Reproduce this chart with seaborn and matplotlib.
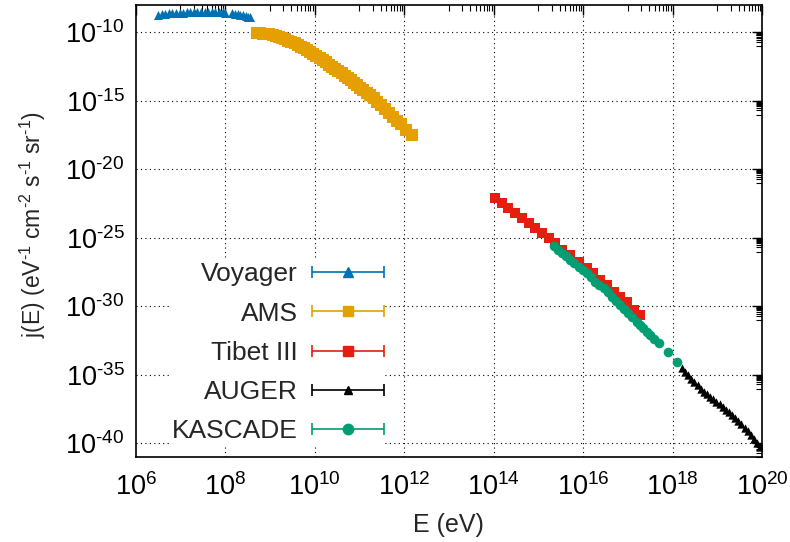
import numpy as np
import matplotlib
matplotlib.use("Agg")
import matplotlib.pyplot as plt
import seaborn as sns
from matplotlib.container import ErrorbarContainer
from matplotlib.legend_handler import HandlerErrorbar
from matplotlib.ticker import FixedLocator, FuncFormatter, NullFormatter

# log10(E / eV) and log10(j / eV^-1 cm^-2 s^-1 sr^-1)
voyager_loge = [6.50, 6.58, 6.66, 6.74, 6.82, 6.90, 6.98, 7.06, 7.14, 7.22, 7.30, 7.38, 7.46, 7.54,
                7.62, 7.70, 7.78, 7.86, 7.94, 8.00, 8.16, 8.22, 8.28, 8.34, 8.40, 8.46, 8.52, 8.56]
voyager_logj = [-8.72, -8.68, -8.65, -8.62, -8.60, -8.58, -8.56, -8.55, -8.53, -8.52, -8.51, -8.50, -8.50, -8.49,
                -8.49, -8.50, -8.51, -8.52, -8.54, -8.56, -8.60, -8.63, -8.67, -8.71, -8.76, -8.81, -8.86, -8.90]

ams_loge = [8.71, 8.78, 8.85, 8.92, 8.99, 9.06, 9.13, 9.20, 9.27, 9.34, 9.41, 9.48, 9.55, 9.62, 9.69, 9.76,
            9.83, 9.90, 9.97, 10.04, 10.11, 10.18, 10.25, 10.32, 10.39, 10.46, 10.53, 10.60, 10.67, 10.74,
            10.81, 10.88, 10.95, 11.02, 11.09, 11.16, 11.24, 11.32, 11.40, 11.48, 11.57, 11.66, 11.75,
            11.84, 11.93, 12.05, 12.17]
ams_logj = [-10.08, -10.08, -10.09, -10.11, -10.14, -10.19, -10.26, -10.33, -10.41, -10.50, -10.60, -10.70,
            -10.81, -10.92, -11.04, -11.17, -11.31, -11.45, -11.59, -11.74, -11.89, -12.04, -12.19, -12.35,
            -12.51, -12.67, -12.83, -12.99, -13.16, -13.33, -13.50, -13.67, -13.85, -14.03, -14.21, -14.39,
            -14.60, -14.81, -15.05, -15.33, -15.60, -15.88, -16.16, -16.44, -16.72, -17.10, -17.52]

tibet_loge = [14.04, 14.18, 14.33, 14.48, 14.63, 14.78, 14.93, 15.08, 15.23, 15.38, 15.53, 15.71, 15.90,
              16.08, 16.23, 16.38, 16.53, 16.68, 16.83, 16.98, 17.13, 17.28]
tibet_logj = [-22.09, -22.46, -22.83, -23.19, -23.56, -23.92, -24.29, -24.65, -25.02, -25.39, -25.87, -26.24,
              -26.73, -27.21, -27.58, -28.07, -28.43, -28.92, -29.29, -29.66, -30.26, -30.63]

auger_loge = [18.21, 18.28, 18.35, 18.42, 18.49, 18.56, 18.63, 18.70, 18.77, 18.84, 18.91, 18.98, 19.05,
              19.12, 19.19, 19.26, 19.33, 19.40, 19.47, 19.54, 19.61, 19.68, 19.75, 19.82, 19.89, 19.96]
auger_logj = [-34.53, -34.78, -35.04, -35.29, -35.53, -35.77, -36.01, -36.22, -36.42, -36.61, -36.79, -36.98,
              -37.16, -37.35, -37.55, -37.74, -37.94, -38.15, -38.38, -38.61, -38.86, -39.11, -39.38, -39.66,
              -39.95, -40.26]

kascade_loge = [15.34, 15.43, 15.53, 15.62, 15.71, 15.80, 15.90, 15.99, 16.08, 16.17, 16.27, 16.36, 16.46,
                16.55, 16.64, 16.73, 16.83, 16.92, 17.01, 17.10, 17.20, 17.27, 17.35, 17.42, 17.50, 17.58,
                17.69, 17.89, 18.10]
kascade_logj = [-25.63, -25.87, -26.12, -26.36, -26.61, -26.85, -27.10, -27.34, -27.58, -27.88, -28.19, -28.43,
                -28.68, -28.98, -29.29, -29.59, -29.90, -30.20, -30.51, -30.81, -31.12, -31.36, -31.61, -31.85,
                -32.09, -32.35, -32.70, -33.31, -34.05]

x_major = [6, 8, 10, 12, 14, 16, 18, 20]
y_major = [-40, -35, -30, -25, -20, -15, -10]

series = [
    ("Voyager", voyager_loge, voyager_logj, "#0072B2", "^", 42, 7),
    ("AMS", ams_loge, ams_logj, "#E69F00", "s", 78, 7.5),
    ("Tibet III", tibet_loge, tibet_logj, "#E51E10", "s", 55, 7.5),
    ("AUGER", auger_loge, auger_logj, "#000000", "^", 36, 6),
    ("KASCADE", kascade_loge, kascade_logj, "#009E73", "o", 48, 7.5),
]

sns.set_theme(style="white")
plt.rcParams["font.family"] = ["Liberation Sans", "DejaVu Sans"]
plt.rcParams["mathtext.fontset"] = "custom"
plt.rcParams["mathtext.rm"] = "Liberation Sans"
plt.rcParams["mathtext.it"] = "Liberation Sans"
plt.rcParams["mathtext.default"] = "regular"
plt.rcParams["axes.unicode_minus"] = False

fig, ax = plt.subplots(figsize=(7.9, 5.42), dpi=100)
fig.subplots_adjust(left=0.1718, right=0.9646, top=0.9908, bottom=0.1568)
ax.set_xscale("log")
ax.set_yscale("log")

handles = []
for name, le, lj, color, marker, s, ms in series:
    sns.scatterplot(x=10.0 ** np.array(le), y=10.0 ** np.array(lj), marker=marker, s=s,
                    color=color, linewidth=0, ax=ax, zorder=3)
    # legend sample in gnuplot style (point with horizontal error bar)
    h = ax.errorbar([np.nan], [np.nan], xerr=[1.0], fmt=marker, color=color, ms=ms,
                    capsize=4, elinewidth=1.2, capthick=1.2, label=name)
    handles.append(h)

ax.set_xlim(1e6, 1e20)
ax.set_ylim(1e-41, 1e-8)

# dotted grid at the major ticks, kept under the legend box
for d in x_major[1:-1]:
    ax.axvline(10.0 ** d, color="black", linestyle=(0, (1, 3)), linewidth=0.8, zorder=0.5)
for d in y_major:
    ax.axhline(10.0 ** d, color="black", linestyle=(0, (1, 3)), linewidth=0.8, zorder=0.5)

ax.xaxis.set_major_locator(FixedLocator([10.0 ** d for d in x_major]))
ax.yaxis.set_major_locator(FixedLocator([10.0 ** d for d in y_major]))
ax.xaxis.set_minor_locator(FixedLocator([k * 10.0 ** (d - 1) for d in x_major for k in range(1, 10)]))
ax.yaxis.set_minor_locator(FixedLocator([k * 10.0 ** (d - 1) for d in y_major for k in range(1, 10)]))


def pow_label(v, p):
    e = int(round(np.log10(v)))
    if e < 0:
        return r"$10^{\text{-}%d}$" % (-e)
    return r"$10^{%d}$" % e


fmt = FuncFormatter(pow_label)
ax.xaxis.set_major_formatter(fmt)
ax.yaxis.set_major_formatter(fmt)
ax.xaxis.set_minor_formatter(NullFormatter())
ax.yaxis.set_minor_formatter(NullFormatter())

ax.tick_params(which="both", direction="in", top=True, right=True, colors="black", labelsize=19.5)
ax.tick_params(which="major", length=7, width=1.0)
ax.tick_params(axis="x", which="major", pad=12)
ax.tick_params(axis="y", which="major", pad=8)
ax.tick_params(which="minor", length=4, width=0.8)
for sp in ax.spines.values():
    sp.set_color("black")
    sp.set_linewidth(1.2)

ax.set_xlabel("E (eV)", fontsize=18, labelpad=8)
ax.set_ylabel(r"j(E) (eV$^{\text{-}1}$ cm$^{\text{-}2}$ s$^{\text{-}1}$ sr$^{\text{-}1}$)", fontsize=16.5)
ax.yaxis.set_label_coords(-0.14, 0.515)

leg = ax.legend(handles=handles, loc="lower left", bbox_to_anchor=(0.032, -0.005), markerfirst=False,
                fontsize=19, handlelength=2.55, handletextpad=0.64, labelspacing=0.58, borderpad=0.1,
                handler_map={ErrorbarContainer: HandlerErrorbar(xerr_size=1.36)},
                frameon=True, fancybox=False, framealpha=1, edgecolor="none", facecolor="white")
leg.set_zorder(2)

fig.savefig("out.png", dpi=100)
